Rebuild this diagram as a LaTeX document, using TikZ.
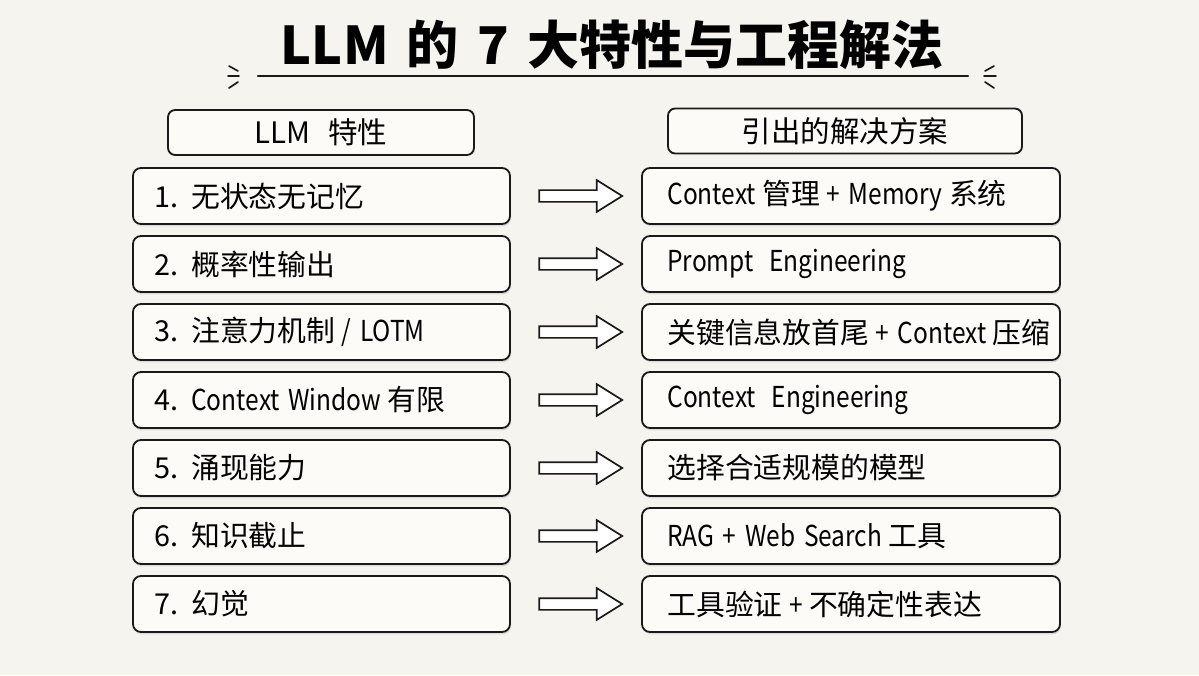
\documentclass[tikz,border=0pt]{standalone}
\usepackage{fontspec}
\setmainfont{Noto Sans CJK SC}
\newfontfamily\enfont{Noto Sans CJK SC}[FakeStretch=0.85]
\newcommand{\en}[1]{{\enfont\spaceskip=0.3em\relax #1}}
\usetikzlibrary{calc,shapes.arrows,shadows}
\definecolor{paper}{HTML}{F6F4EE}
\definecolor{cardfill}{HTML}{FCFBF8}
\definecolor{ink}{HTML}{1A1A1A}
\begin{document}
\begin{tikzpicture}[
    card/.style={draw=ink, line width=1.3pt, rounded corners=0.2cm, fill=cardfill,
        drop shadow={shadow xshift=0.02cm, shadow yshift=-0.06cm, fill=gray!40, opacity=0.6},
        minimum height=1.4cm},
    featbox/.style={card, minimum width=9.425cm},
    solbox/.style={card, minimum width=10.45cm},
    label/.style={anchor=west, inner sep=0pt, font=\fontsize{20.5}{24}\selectfont},
    headbox/.style={draw=ink, line width=1.3pt, rounded corners=0.18cm, fill=cardfill,
        minimum height=1.125cm, font=\fontsize{21}{24}\selectfont},
    hollowarrow/.style={single arrow, draw=ink, line width=1.2pt, fill=white, inner sep=0.125cm,
        minimum height=2.075cm, minimum width=0.75cm, single arrow head extend=0.25cm,
        single arrow tip angle=64}
]
    \fill[paper] (0,0) rectangle (29.975,16.875);
    \useasboundingbox (0,0) rectangle (29.975,16.875);
    %title
    \node (title) at (15.3,15.75) {\fontsize{37}{42}\selectfont\bfseries
        LLM\hspace{0.35em}的\hspace{0.35em}7\hspace{0.35em}大特性与工程解法};
    \coordinate (ulA) at (6.45,14.975);
    \coordinate (ulB) at (24.2,14.975);
    \draw[ink, line width=1.8pt, line cap=round] (ulA) -- (ulB);
    %little marks at both ends of the rule
    \draw[ink, line width=1.2pt, line cap=round] (5.725,15.225) -- (5.95,15.1)
        (5.7,14.975) -- (5.975,14.975) (5.725,14.675) -- (5.95,14.825);
    \draw[ink, line width=1.2pt, line cap=round] (24.85,15.225) -- (24.625,15.1)
        (24.6,14.975) -- (24.9,14.975) (24.85,14.675) -- (24.625,14.825);
    %column heads
    \node[headbox, minimum width=7.65cm] (headL) at (8.025,13.5625) {LLM\hspace{0.6em}特性};
    \node[headbox, minimum width=8.85cm] (headR) at (21.125,13.6) {引出的解决方案};
    %rows
    \foreach \i/\feat/\sol in {1/{无状态无记忆}/{\en{Context} 管理 \en{+ Memory} 系统},
                              2/{概率性输出}/{\en{Prompt\hspace{0.55em}Engineering}},
                              3/{注意力机制 \en{/ LOTM}}/{关键信息放首尾 \en{+ Context} 压缩},
                              4/{\en{Context Window} 有限}/{\en{Context\hspace{0.55em}Engineering}},
                              5/{涌现能力}/{选择合适规模的模型},
                              6/{知识截止}/{\en{RAG + Web Search} 工具},
                              7/{幻觉}/{工具验证 \en{+} 不确定性表达}}
        {%
            \node[featbox] (feat\i) at (8.0375,{11.975-1.7*(\i-1)}) {};
            \node[solbox] (sol\i) at (21.275,{11.975-1.7*(\i-1)}) {};
            \node[label] (featT\i) at ([xshift=0.55cm]feat\i.west) {\i.\hspace{0.45em}\feat};
            \node[label] (solT\i) at ([xshift=0.65cm]sol\i.west) {\sol};
            \node[hollowarrow] (arr\i) at ($(feat\i.east)!0.5!(sol\i.west)$) {};
        }
\end{tikzpicture}
\end{document}
